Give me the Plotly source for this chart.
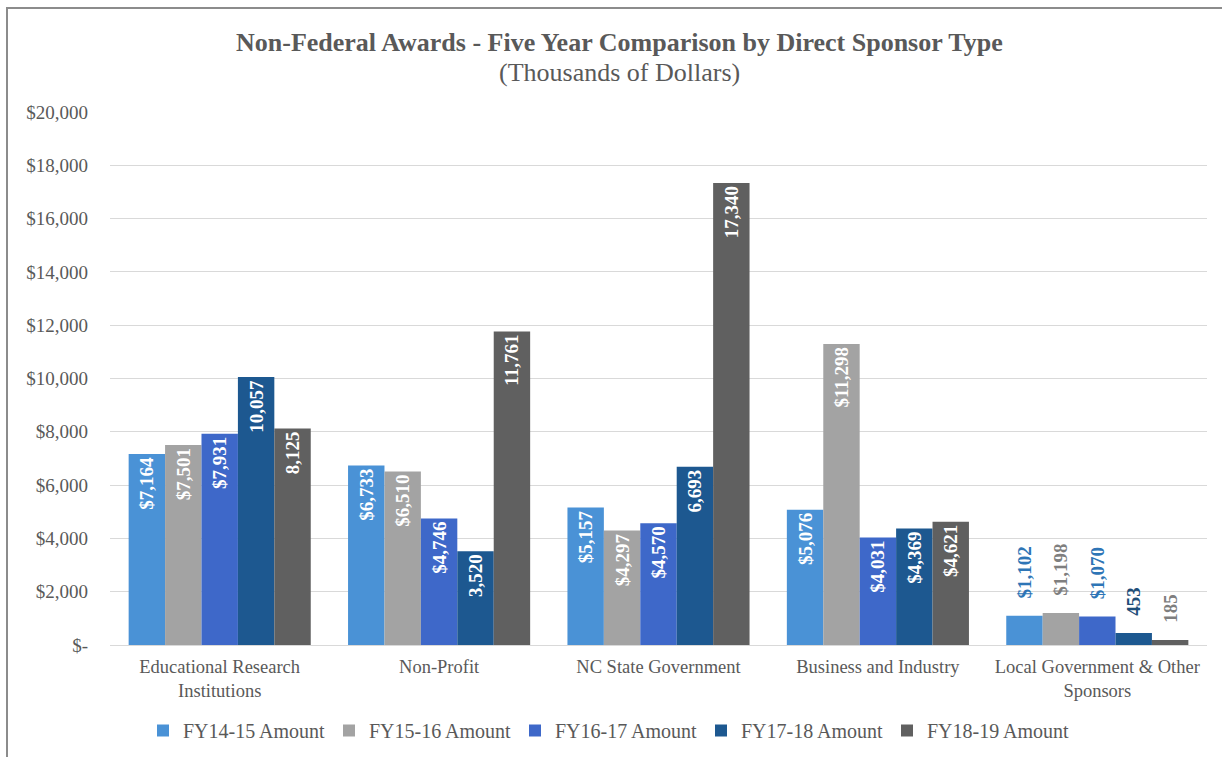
import plotly.graph_objects as go

categories = ["Educational Research<br>Institutions", "Non-Profit", "NC State Government",
              "Business and Industry", "Local Government & Other<br>Sponsors"]
series_names = ["FY14-15 Amount", "FY15-16 Amount", "FY16-17 Amount", "FY17-18 Amount", "FY18-19 Amount"]
fy14_15 = [7164, 6733, 5157, 5076, 1102]
fy15_16 = [7501, 6510, 4297, 11298, 1198]
fy16_17 = [7931, 4746, 4570, 4031, 1070]
fy17_18 = [10057, 3520, 6693, 4369, 453]
fy18_19 = [8125, 11761, 17340, 4621, 185]
labels_14_15 = ["$7,164", "$6,733", "$5,157", "$5,076", "$1,102"]
labels_15_16 = ["$7,501", "$6,510", "$4,297", "$11,298", "$1,198"]
labels_16_17 = ["$7,931", "$4,746", "$4,570", "$4,031", "$1,070"]
labels_17_18 = ["10,057", "3,520", "6,693", "$4,369", "453"]
labels_18_19 = ["8,125", "11,761", "17,340", "$4,621", "185"]
y_tickvals = [0, 2000, 4000, 6000, 8000, 10000, 12000, 14000, 16000, 18000, 20000]
y_ticktext = ["$-", "$2,000", "$4,000", "$6,000", "$8,000", "$10,000", "$12,000",
              "$14,000", "$16,000", "$18,000", "$20,000"]
title_text = "Non-Federal Awards - Five Year Comparison by Direct Sponsor Type"
subtitle_text = "(Thousands of Dollars)"

values = [fy14_15, fy15_16, fy16_17, fy17_18, fy18_19]
labels = [labels_14_15, labels_15_16, labels_16_17, labels_17_18, labels_18_19]
colors = ["#4A92D6", "#A3A3A3", "#3E68C9", "#1D5890", "#606060"]
out_colors = ["#2E75B6", "#7F7F7F", "#2E75B6", "#1F4E79", "#7F7F7F"]

FONT = "Liberation Serif"
TXT = "#595959"

# plot area geometry (pixels)
L, R, T, B = 110, 15, 112, 112
PW, PH = 1222 - L - R, 757 - T - B


def px_x(p):
    return (p - L) / PW


def px_y(p):
    return (757 - B - p) / PH


fig = go.Figure()
for name, vals, labs, col, ocol in zip(series_names, values, labels, colors, out_colors):
    positions = ["outside" if v < 1500 else "inside" for v in vals]
    texts = [("\u00a0\u00a0\u00a0" + t) if p == "outside" else t for t, p in zip(labs, positions)]
    fig.add_trace(go.Bar(
        x=categories, y=vals, name=name, text=texts,
        textposition=positions, textangle=-90, insidetextanchor="end",
        marker=dict(color=col, line=dict(width=0)),
        insidetextfont=dict(family=FONT, size=19, color="white", weight="bold"),
        outsidetextfont=dict(family=FONT, size=19, color=ocol, weight="bold"),
        cliponaxis=False,
    ))

fig.update_layout(
    width=1222, height=757,
    paper_bgcolor="white", plot_bgcolor="white",
    margin=dict(l=L, r=R, t=T, b=B, autoexpand=False),
    barmode="group", bargap=0.17, bargroupgap=0,
    font=dict(family=FONT, color=TXT, size=19),
    legend=dict(orientation="h", x=px_x(143), xanchor="left", y=px_y(711), yanchor="top",
                font=dict(family=FONT, size=20, color=TXT),
                itemwidth=30, traceorder="normal",
                entrywidth=141, entrywidthmode="pixels"),
    uniformtext=dict(minsize=19, mode="show"),
    annotations=[
        dict(text="<b>" + title_text + "</b>", x=px_x(619), y=px_y(42), xref="paper", yref="paper",
             xanchor="center", yanchor="middle", showarrow=False,
             font=dict(family=FONT, size=26, color=TXT)),
        dict(text=subtitle_text, x=px_x(619), y=px_y(73), xref="paper", yref="paper",
             xanchor="center", yanchor="middle", showarrow=False,
             font=dict(family=FONT, size=26, color=TXT)),
    ],
)
fig.update_yaxes(range=[0, 20000], tickvals=y_tickvals, ticktext=y_ticktext,
                 showgrid=True, gridcolor="#D9D9D9", gridwidth=1, zeroline=False,
                 showline=False, ticks="", ticklabelstandoff=21, automargin=False,
                 tickfont=dict(family=FONT, size=19, color=TXT))
fig.update_xaxes(showline=True, linecolor="#D9D9D9", linewidth=1, ticks="",
                 ticklabelstandoff=5, automargin=False,
                 tickfont=dict(family=FONT, size=18.5, color=TXT))

# outer chart border
fig.add_shape(type="rect", xref="paper", yref="paper",
              x0=px_x(7), x1=px_x(1240), y0=px_y(780), y1=px_y(8),
              line=dict(color="#8C8C8C", width=2), fillcolor="rgba(0,0,0,0)", layer="below")

fig.write_html("out.html", config={"displayModeBar": False},
               post_script="document.body.style.margin='0px';")
